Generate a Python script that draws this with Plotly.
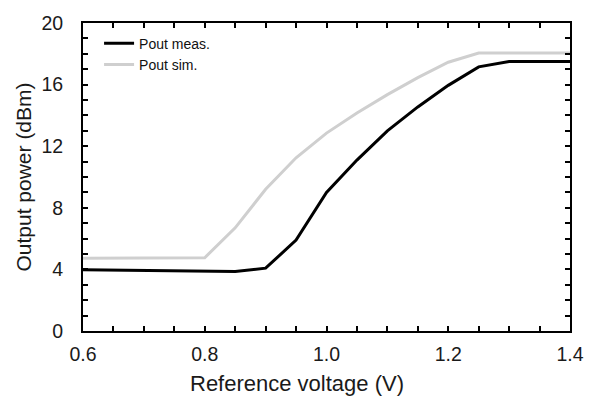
import plotly.graph_objects as go

voltage = [0.6, 0.65, 0.7, 0.75, 0.8, 0.85, 0.9, 0.95, 1.0, 1.05, 1.1, 1.15, 1.2, 1.25, 1.3, 1.35, 1.4]
pout_meas = [3.97, 3.95, 3.92, 3.9, 3.88, 3.87, 4.08, 5.9, 9.0, 11.1, 13.0, 14.55, 15.95, 17.15, 17.5, 17.5, 17.5]
pout_sim = [4.72, 4.72, 4.73, 4.74, 4.76, 6.7, 9.2, 11.25, 12.85, 14.15, 15.35, 16.45, 17.45, 18.05, 18.05, 18.05, 18.05]

x_title = "Reference voltage (V)"
y_title = "Output power (dBm)"

fig = go.Figure()
fig.add_trace(go.Scatter(x=voltage, y=pout_meas, mode="lines", name="Pout meas.",
                         line=dict(color="#000000", width=3)))
fig.add_trace(go.Scatter(x=voltage, y=pout_sim, mode="lines", name="Pout sim.",
                         line=dict(color="#cfcfcf", width=3)))

font = "Liberation Sans, Arial, sans-serif"
axis_common = dict(
    showline=True, linecolor="black", linewidth=2, mirror="ticks",
    ticks="inside", ticklen=5, tickwidth=2, tickcolor="black",
    showgrid=False, zeroline=False,
    tickfont=dict(family=font, size=19.5, color="#1a1a1a"),
)
fig.update_xaxes(range=[0.6, 1.4], dtick=0.2, tick0=0.6, tickformat=".1f",
                 ticklabelstandoff=5,
                 minor=dict(ticks="inside", dtick=0.05, ticklen=5, tickwidth=2, tickcolor="black"),
                 **axis_common)
fig.update_yaxes(range=[0, 20], dtick=4,
                 ticklabelstandoff=14,
                 minor=dict(ticks="inside", dtick=1, ticklen=5, tickwidth=2, tickcolor="black"),
                 title=dict(text=y_title, font=dict(family=font, size=21, color="#1a1a1a"), standoff=4),
                 **axis_common)
fig.add_annotation(text=x_title, xref="paper", yref="paper", x=0.44, y=-0.17,
                   xanchor="center", yanchor="middle", showarrow=False,
                   font=dict(family=font, size=22, color="#1a1a1a"))
fig.update_layout(
    width=596, height=398,
    margin=dict(l=83, r=26, t=13, b=67),
    plot_bgcolor="white", paper_bgcolor="white",
    legend=dict(x=0.033, y=0.985, xanchor="left", yanchor="top",
                font=dict(family=font, size=14, color="#111"),
                itemwidth=30, tracegroupgap=2, bgcolor="rgba(0,0,0,0)"),
)
fig.write_html("out.html")
